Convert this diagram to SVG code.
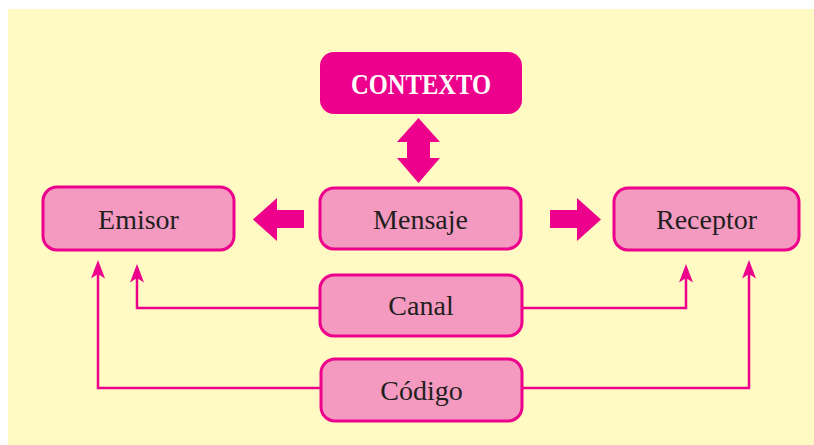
<svg xmlns="http://www.w3.org/2000/svg" width="814" height="445" viewBox="0 0 814 445">
<style>
.node rect{fill:#F49AC1;stroke:#EC008C;stroke-width:3}
.node text{font-family:"Liberation Serif",serif;font-size:28px;fill:#231F20;text-anchor:middle}
.line{fill:none;stroke:#EC008C;stroke-width:2.5}
.block{fill:#EC008C}
</style>
<defs>
<path id="head" d="M0,0 L7,18.5 L0,14 L-7,18.5 Z" fill="#EC008C"/>
</defs>
<rect x="8" y="9" width="806" height="436" fill="#FFF9C4"/>
<g id="connectors">
<path class="line" d="M320,308 H137 V270"/>
<use href="#head" x="137" y="264"/>
<path class="line" d="M320,388 H98 V266"/>
<use href="#head" x="98" y="260"/>
<path class="line" d="M522,308 H686 V270"/>
<use href="#head" x="686" y="264"/>
<path class="line" d="M522,388 H749 V266"/>
<use href="#head" x="749" y="260"/>
<path class="block" d="M304,210 H277 V198 L253,219.5 L277,241 V228 H304 Z"/>
<path class="block" d="M550,210 H577 V198 L601,219.5 L577,241 V228 H550 Z"/>
<path class="block" d="M418.5,118 L440,142 H430 V158 H440 L418.5,183 L397,158 H407 V142 H397 Z"/>
</g>
<g id="contexto">
<rect x="320" y="52" width="202" height="62" rx="14" fill="#EC008C"/>
<text x="421" y="94" font-family="Liberation Serif,serif" font-weight="bold" font-size="29" fill="#FFFFFF" text-anchor="middle" textLength="140" lengthAdjust="spacingAndGlyphs">CONTEXTO</text>
</g>
<g id="emisor" class="node">
<rect x="43" y="187" width="191" height="63" rx="14"/>
<text x="138.5" y="229">Emisor</text>
</g>
<g id="mensaje" class="node">
<rect x="320" y="188" width="201" height="61" rx="14"/>
<text x="420.5" y="229">Mensaje</text>
</g>
<g id="receptor" class="node">
<rect x="614" y="188" width="185" height="62" rx="14"/>
<text x="706.5" y="229">Receptor</text>
</g>
<g id="canal" class="node">
<rect x="320" y="275" width="202" height="61" rx="14"/>
<text x="421" y="315">Canal</text>
</g>
<g id="codigo" class="node">
<rect x="321" y="359" width="201" height="62" rx="14"/>
<text x="421.5" y="400">Código</text>
</g>
</svg>
